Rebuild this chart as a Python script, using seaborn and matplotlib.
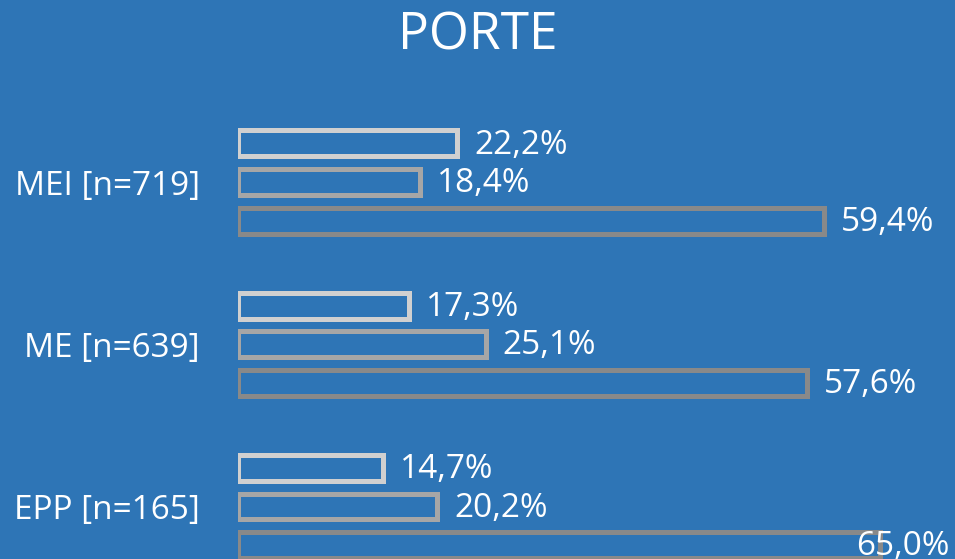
import matplotlib
matplotlib.use("Agg")
import matplotlib.pyplot as plt
import seaborn as sns
import pandas as pd

categories = ["MEI [n=719]", "ME [n=639]", "EPP [n=165]"]
series = ["Série 1", "Série 2", "Série 3"]
serie1 = [22.2, 17.3, 14.7]
serie2 = [18.4, 25.1, 20.2]
serie3 = [59.4, 57.6, 65.0]
title = "PORTE"

BG = "#2E75B6"
edge_colors = ["#D0D0D0", "#A6A6A6", "#898989"]

rows = []
for s, vals in zip(series, [serie1, serie2, serie3]):
    for c, v in zip(categories, vals):
        rows.append({"cat": c, "series": s, "value": v})
df = pd.DataFrame(rows)

sns.set_theme(style="white")
plt.rcParams["font.family"] = ["Open Sans", "DejaVu Sans"]

W, H = 955, 559
fig = plt.figure(figsize=(W / 100, H / 100), dpi=100, facecolor=BG)
x0 = 238
ax = fig.add_axes([x0 / W, 0, (W - x0) / W, 1])
ax.set_facecolor(BG)

sns.barplot(data=df, y="cat", x="value", hue="series", order=categories,
            hue_order=series, palette=edge_colors, fill=False, width=0.712,
            gap=0.325, linewidth=3.6, legend=False, orient="h", ax=ax)

scale = 9.87  # px per %
xmax = (W - x0) / scale
ax.set_xlim(0, xmax)
spacing = 162.25
ax.set_ylim(2 + (H - 506.5) / spacing, -182 / spacing)

for sp in ax.spines.values():
    sp.set_visible(False)
ax.set_xticks([])
ax.set_xlabel("")
ax.set_ylabel("")
ax.tick_params(axis="y", length=0, pad=27.4, labelsize=24, labelcolor="white")

off = 17 / scale
for cont in ax.containers:
    for bar in cont:
        v = bar.get_width()
        y = bar.get_y() + bar.get_height() / 2
        txt = f"{v:.1f}".replace(".", ",") + "%"
        xpos = v + off
        ha = "left"
        if xpos + 92 / scale > xmax:
            xpos = xmax - 6 / scale
            ha = "right"
        ax.text(xpos, y + 0.01, txt, ha=ha, va="center", color="white",
                fontsize=24, clip_on=False)

fig.text(0.5, 1 - 36 / H, title, ha="center", va="center", color="white",
         fontsize=37)

fig.savefig("out.png", dpi=100, facecolor=BG)
